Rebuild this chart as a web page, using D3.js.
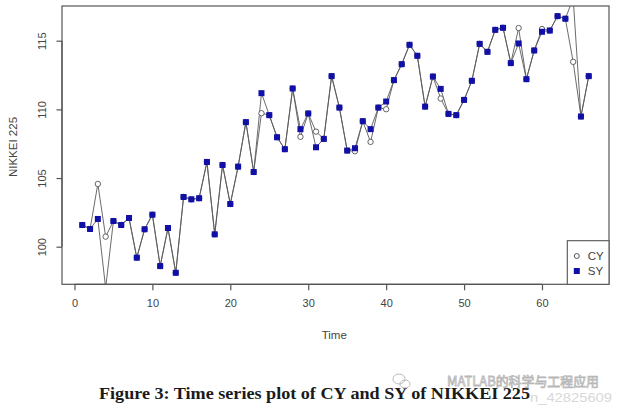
<!DOCTYPE html>
<html>
<head>
<meta charset="utf-8">
<script src="https://cdn.jsdelivr.net/npm/d3@7"></script>
<style>
  html, body { margin: 0; padding: 0; background: #ffffff; }
  svg { display: block; }
</style>
</head>
<body>
<svg id="chart" width="618" height="409"></svg>
<script>
// ---- data ----
const timeIndex = d3.range(1, 67);
const SY = [101.58, 101.29, 102.02, 97.0, 101.87, 101.58, 102.09, 99.2, 101.27, 102.33,
            98.59, 101.36, 98.1, 103.62, 103.45, 103.53, 106.17, 100.9, 105.95, 103.11,
            105.83, 109.07, 105.44, 111.18, 109.58, 107.97, 107.1, 111.52, 108.56, 109.7,
            107.24, 107.85, 112.42, 110.13, 107.0, 107.17, 109.14, 108.56, 110.13, 110.57,
            112.13, 113.29, 114.7, 113.9, 110.2, 112.39, 111.49, 109.67, 109.58, 110.69,
            112.08, 114.77, 114.19, 115.79, 115.94, 113.37, 114.8, 112.2, 114.29, 115.65,
            115.74, 116.79, 116.6, 118.1, 109.48, 112.42];
const CY = [101.58, 101.29, 104.57, 100.73, 101.87, 101.58, 102.09, 99.2, 101.27, 102.33,
            98.59, 101.36, 98.1, 103.62, 103.45, 103.53, 106.17, 100.9, 105.95, 103.11,
            105.83, 109.07, 105.44, 109.72, 109.58, 107.97, 107.1, 111.52, 108.0, 109.7,
            108.38, 107.85, 112.42, 110.13, 107.0, 106.95, 109.14, 107.63, 110.13, 110.01,
            112.13, 113.29, 114.7, 113.9, 110.2, 112.39, 110.79, 109.67, 109.58, 110.69,
            112.08, 114.77, 114.19, 115.79, 115.94, 113.37, 115.92, 112.2, 114.29, 115.85,
            115.74, 116.79, 116.6, 113.46, 109.48, 112.42];
const xTicks = [0, 10, 20, 30, 40, 50, 60];
const yTicks = [100, 105, 110, 115];
const seriesNames = ["CY", "SY"];
const xTitle = "Time";
const yTitle = "NIKKEI 225";
const caption = "Figure 3: Time series plot of CY and SY of NIKKEI 225";
const watermark1 = "MATLAB的科学与工程应用";
const watermark2 = "n_42825609";

// ---- layout ----
const svg = d3.select("#chart");
const box = { left: 62, right: 609, top: 6, bottom: 284.3 };
const x = d3.scaleLinear().domain([-1.6, 68.6]).range([box.left, box.right]);
const y = d3.scaleLinear().domain([97.262, 117.527]).range([box.bottom, box.top]);
const sqColor = "#1010a8";
const lineColor = "#5a5a5a";
const axisColor = "#555";
const font = "'Liberation Sans', Arial, sans-serif";

svg.append("rect").attr("width", 618).attr("height", 409).attr("fill", "#fff");

svg.append("defs").append("clipPath").attr("id", "plotclip")
  .append("rect").attr("x", box.left).attr("y", box.top)
  .attr("width", box.right - box.left).attr("height", box.bottom - box.top);

const plot = svg.append("g").attr("clip-path", "url(#plotclip)");
const pts = (arr) => arr.map((v, i) => [timeIndex[i], v]);
const line = d3.line().x(d => x(d[0])).y(d => y(d[1]));

plot.append("path").datum(pts(CY)).attr("d", line)
  .attr("fill", "none").attr("stroke", lineColor).attr("stroke-width", 0.9);
plot.append("path").datum(pts(SY)).attr("d", line)
  .attr("fill", "none").attr("stroke", lineColor).attr("stroke-width", 0.9);

plot.selectAll("circle.cy").data(pts(CY)).enter().append("circle")
  .attr("class", "cy").attr("cx", d => x(d[0])).attr("cy", d => y(d[1])).attr("r", 2.7)
  .attr("fill", "#fff").attr("stroke", "#555").attr("stroke-width", 0.9);
const sq = 6;
plot.selectAll("rect.sy").data(pts(SY)).enter().append("rect")
  .attr("class", "sy").attr("x", d => x(d[0]) - sq / 2).attr("y", d => y(d[1]) - sq / 2)
  .attr("width", sq).attr("height", sq).attr("fill", sqColor);

// frame
svg.append("rect").attr("x", box.left).attr("y", box.top)
  .attr("width", box.right - box.left).attr("height", box.bottom - box.top)
  .attr("fill", "none").attr("stroke", axisColor).attr("stroke-width", 1.2);

// x axis
const xAxis = d3.axisBottom(x).tickValues(xTicks).tickSize(6).tickPadding(9).tickSizeOuter(0);
const gx = svg.append("g").attr("transform", `translate(0,${box.bottom})`).call(xAxis);
gx.select(".domain").attr("d", `M${x(xTicks[0])},0H${x(xTicks[xTicks.length - 1])}`)
  .attr("stroke", axisColor).attr("stroke-width", 1.2);
gx.selectAll(".tick line").attr("stroke", axisColor).attr("stroke-width", 1.2);
gx.selectAll(".tick text").attr("font-family", font).attr("font-size", 11).attr("fill", "#444");

// y axis
const yAxis = d3.axisLeft(y).tickValues(yTicks).tickSize(5.5).tickSizeOuter(0).tickFormat(d3.format("d"));
const gy = svg.append("g").attr("transform", `translate(${box.left},0)`).call(yAxis);
gy.select(".domain").attr("d", `M0,${y(yTicks[0])}V${y(yTicks[yTicks.length - 1])}`)
  .attr("stroke", axisColor).attr("stroke-width", 1.2);
gy.selectAll(".tick line").attr("stroke", axisColor).attr("stroke-width", 1.2);
gy.selectAll(".tick text")
  .attr("x", 0).attr("dy", null)
  .attr("transform", "translate(-20,0) rotate(-90)")
  .attr("text-anchor", "middle").attr("dy", "0.35em")
  .attr("font-family", font).attr("font-size", 11).attr("fill", "#444");

// axis titles
svg.append("text").attr("x", (x(0) + x(60)) / 2 + 26).attr("y", 339)
  .attr("text-anchor", "middle").attr("font-family", font).attr("font-size", 11.5)
  .attr("fill", "#444").text(xTitle);
svg.append("text").attr("transform", `translate(17,147) rotate(-90)`)
  .attr("text-anchor", "middle").attr("font-family", font).attr("font-size", 11.5)
  .attr("fill", "#444").text(yTitle);

// legend
const lg = { x: 567.3, y: 240.7 };
svg.append("rect").attr("x", lg.x).attr("y", lg.y)
  .attr("width", box.right - lg.x).attr("height", box.bottom - lg.y)
  .attr("fill", "#fff").attr("stroke", axisColor).attr("stroke-width", 1.1);
const legendRows = svg.selectAll("g.leg").data(seriesNames).enter().append("g")
  .attr("class", "leg").attr("transform", (d, i) => `translate(${lg.x + 9.5},${256 + i * 15})`);
legendRows.each(function (d, i) {
  const g = d3.select(this);
  if (i === 0) {
    g.append("circle").attr("r", 2.5).attr("fill", "#fff").attr("stroke", "#444").attr("stroke-width", 0.9);
  } else {
    g.append("rect").attr("x", -3).attr("y", -3).attr("width", 6).attr("height", 6).attr("fill", sqColor);
  }
  g.append("text").attr("x", 11).attr("dy", "0.36em").attr("font-family", font)
    .attr("font-size", 11.5).attr("fill", "#444").text(d);
});

// caption
svg.append("text").attr("x", 99).attr("y", 399)
  .attr("font-family", "'Liberation Serif', 'DejaVu Serif', serif").attr("font-weight", "bold")
  .attr("font-size", 16).attr("fill", "#1a1a1a")
  .attr("textLength", 431).attr("lengthAdjust", "spacingAndGlyphs").text(caption);

// watermarks
svg.append("text").attr("x", 530).attr("y", 402)
  .attr("font-family", font).attr("font-size", 13).attr("fill", "#d8d8d8")
  .attr("textLength", 82).attr("lengthAdjust", "spacingAndGlyphs").text(watermark2);
svg.append("text").attr("x", 447).attr("y", 386)
  .attr("font-family", "'Noto Sans CJK SC', sans-serif").attr("font-size", 13)
  .attr("fill", "none").attr("stroke", "#b8b8b8").attr("stroke-width", 0.8)
  .attr("textLength", 152).attr("lengthAdjust", "spacingAndGlyphs").text(watermark1);
const icon = svg.append("g").attr("transform", "translate(401,381)")
  .attr("fill", "none").attr("stroke", "#bbb").attr("stroke-width", 1);
icon.append("ellipse").attr("cx", -2).attr("cy", -2).attr("rx", 6).attr("ry", 5);
icon.append("ellipse").attr("cx", 4).attr("cy", 3).attr("rx", 5).attr("ry", 4);
</script>
</body>
</html>
